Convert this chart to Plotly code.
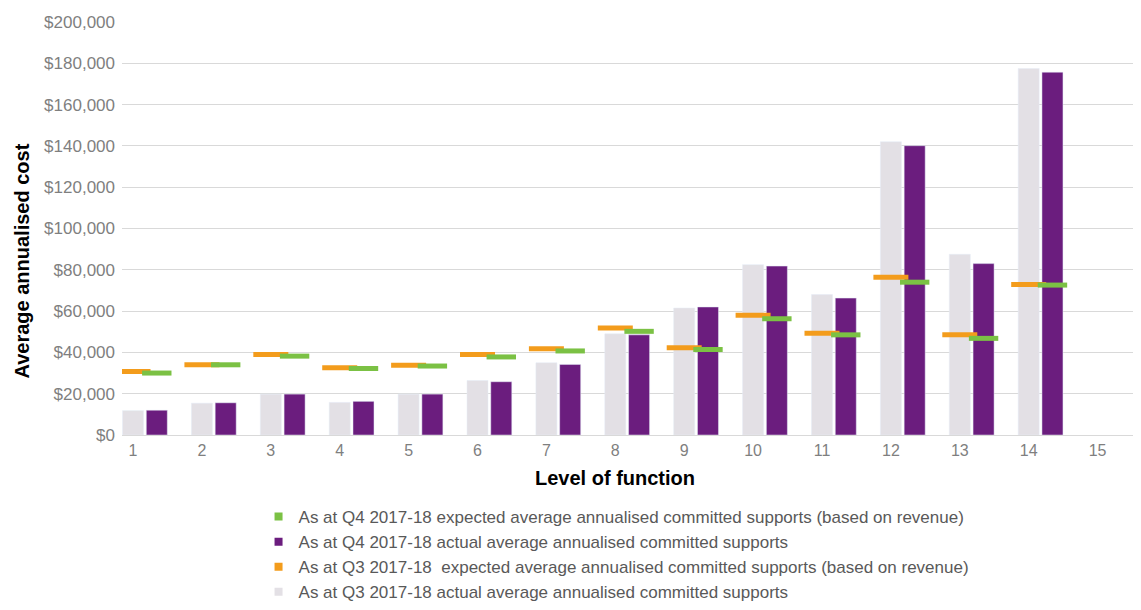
import plotly.graph_objects as go

levels = list(range(1, 16))
q3_actual = [11800, 15400, 19800, 15800, 19800, 26400, 35000, 49000, 61500, 82500, 68000, 142000, 87500, 177500, None]
q4_actual = [12000, 15600, 19800, 16300, 19800, 25800, 34200, 48500, 62000, 81800, 66300, 140100, 83000, 175700, None]
q3_expected = [30800, 34000, 39000, 32600, 33800, 39000, 41800, 51800, 42200, 58000, 49300, 76400, 48500, 72900, None]
q4_expected = [30000, 34000, 38200, 32200, 33400, 37800, 40700, 50200, 41400, 56300, 48500, 74000, 46800, 72600, None]

NAMES = [
    "As at Q4 2017-18 expected average annualised committed supports (based on revenue)",
    "As at Q4 2017-18 actual average annualised committed supports",
    "As at Q3 2017-18  expected average annualised committed supports (based on revenue)",
    "As at Q3 2017-18 actual average annualised committed supports",
]
GREY, PURPLE, ORANGE, GREEN = "#e3e0e5", "#6b1d7e", "#f39c1c", "#7bc144"
SHIFT = 0.345  # purple bar sits to the right of the grey one

fig = go.Figure()
fig.add_trace(go.Bar(x=levels, y=q3_actual, width=0.305, marker_color=GREY, showlegend=False))
fig.add_trace(
    go.Bar(x=[l + SHIFT for l in levels], y=q4_actual, width=0.305, marker_color=PURPLE, showlegend=False)
)
for xs, ys, color, size in (
    (levels, q3_expected, ORANGE, 25),
    ([l + SHIFT for l in levels], q4_expected, GREEN, 21),
):
    fig.add_trace(
        go.Scatter(
            x=xs, y=ys, mode="markers", showlegend=False, hoverinfo="y",
            marker=dict(symbol="line-ew", size=size, color=color, line=dict(color=color, width=5)),
        )
    )
# legend keys: small squares like the original
for name, color in zip(NAMES, (GREEN, PURPLE, ORANGE, GREY)):
    fig.add_trace(
        go.Scatter(x=[None], y=[None], mode="markers", name=name,
                   marker=dict(symbol="square", size=8, color=color))
    )

fig.update_layout(
    width=1133, height=602,
    barmode="overlay",
    plot_bgcolor="white", paper_bgcolor="white",
    margin=dict(l=114, r=0, t=14, b=174),
    font=dict(family="Liberation Sans, Arial, sans-serif", color="#7f7f7f", size=16),
    xaxis=dict(
        range=[0.84, 15.63], tickvals=levels, ticktext=[str(l) for l in levels],
        showgrid=False, zeroline=False, showline=False, ticks="",
        tickfont=dict(size=16, color="#7f7f7f"), ticklabelstandoff=4,
    ),
    yaxis=dict(
        range=[0, 200000], dtick=20000, tickprefix="$", tickformat=",d",
        gridcolor="#d9d9d9", zeroline=True, zerolinecolor="#d9d9d9", zerolinewidth=1,
        tickfont=dict(size=17, color="#7f7f7f"), ticklabelstandoff=6,
    ),
    legend=dict(
        x=0.134, y=-0.155, xanchor="left", yanchor="top", orientation="v",
        font=dict(size=17, color="#595959"), tracegroupgap=5, itemwidth=30,
        bgcolor="rgba(0,0,0,0)", traceorder="normal",
    ),
    annotations=[
        dict(text="<b>Average annualised cost</b>", x=0, y=0.42, xref="paper", yref="paper",
             xanchor="center", yanchor="middle", xshift=-100, textangle=-90, showarrow=False,
             font=dict(size=20, color="black")),
        dict(text="<b>Level of function</b>", x=0.484, y=0, xref="paper", yref="paper",
             xanchor="center", yanchor="middle", yshift=-43, showarrow=False,
             font=dict(size=20, color="black")),
    ],
)

fig.write_html("out.html")
